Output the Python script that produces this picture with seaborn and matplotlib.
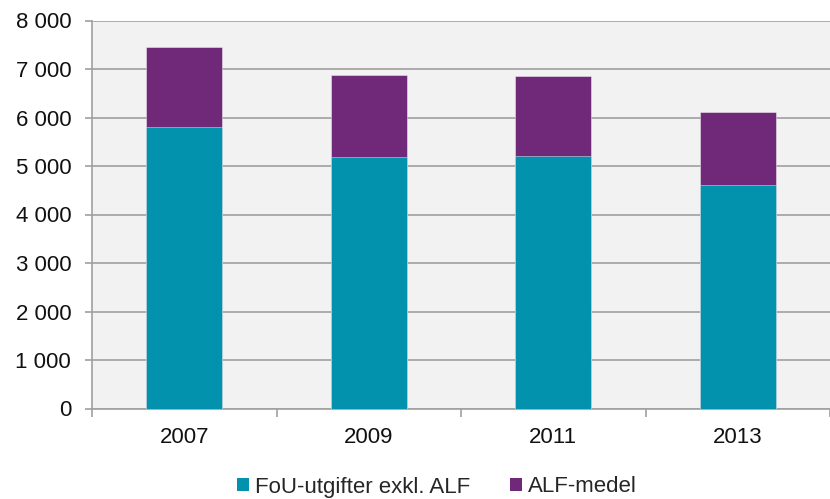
import matplotlib
matplotlib.use("Agg")
import matplotlib.pyplot as plt
import seaborn as sns
import pandas as pd
import numpy as np
from matplotlib.patches import Patch
from matplotlib.ticker import FuncFormatter, FixedLocator

years = ["2007", "2009", "2011", "2013"]
fou_exkl_alf = [5810, 5180, 5205, 4610]
alf_medel = [1635, 1690, 1650, 1510]
series_names = ["FoU-utgifter exkl. ALF", "ALF-medel"]
y_ticks = [0, 1000, 2000, 3000, 4000, 5000, 6000, 7000, 8000]

teal = "#0392ad"
purple = "#702878"

sns.set_theme(style="white")
plt.rcParams["font.family"] = ["Liberation Sans", "DejaVu Sans"]

df = pd.DataFrame({"year": years, "fou": fou_exkl_alf, "alf": alf_medel})
df["total"] = df["fou"] + df["alf"]

fig = plt.figure(figsize=(8.30, 4.99), dpi=100)
ax = fig.add_axes([92 / 830, 1 - 408.5 / 499, 1 - 92 / 830, (408.5 - 20.5) / 499])
ax.set_facecolor("#f2f2f2")

sns.barplot(data=df, x="year", y="total", color=purple, saturation=1, width=0.41,
            edgecolor="#ffffff80", linewidth=0.6, ax=ax, zorder=3)
sns.barplot(data=df, x="year", y="fou", color=teal, saturation=1, width=0.41,
            edgecolor="#ffffff80", linewidth=0.6, ax=ax, zorder=4)

ax.set_ylim(0, 8000)
ax.set_xlim(-0.5, len(years) - 0.5)
ax.set_yticks(y_ticks)
ax.yaxis.set_major_formatter(FuncFormatter(lambda v, p: f"{int(v):,}".replace(",", " ")))
ax.grid(axis="y", color="#a6a6a6", linewidth=1.3, zorder=1)
ax.set_axisbelow(True)
ax.set_xlabel("")
ax.set_ylabel("")

for s in ["top", "right"]:
    ax.spines[s].set_visible(False)
for s in ["left", "bottom"]:
    ax.spines[s].set_color("#a0a0a0")
    ax.spines[s].set_linewidth(1.2)

ax.xaxis.set_minor_locator(FixedLocator(np.arange(-0.5, len(years), 1.0)))
ax.tick_params(axis="x", which="major", length=0, pad=13, labelsize=16, colors="#111111")
ax.tick_params(axis="x", which="minor", length=6, width=1.2, color="#a0a0a0", direction="out", bottom=True)
ax.tick_params(axis="y", which="major", length=5, width=1.2, color="#a0a0a0", direction="out",
               left=True, pad=10, labelsize=16, labelcolor="#111111")

handles = [Patch(facecolor=teal, edgecolor="none"), Patch(facecolor=purple, edgecolor="none")]
fig.legend(handles, series_names, loc="center", bbox_to_anchor=(437 / 830, 1 - 487 / 499),
           ncol=2, frameon=False, fontsize=16, handlelength=0.55, handleheight=0.55,
           handletextpad=0.25, columnspacing=1.8)

fig.savefig("out.png", dpi=100)
